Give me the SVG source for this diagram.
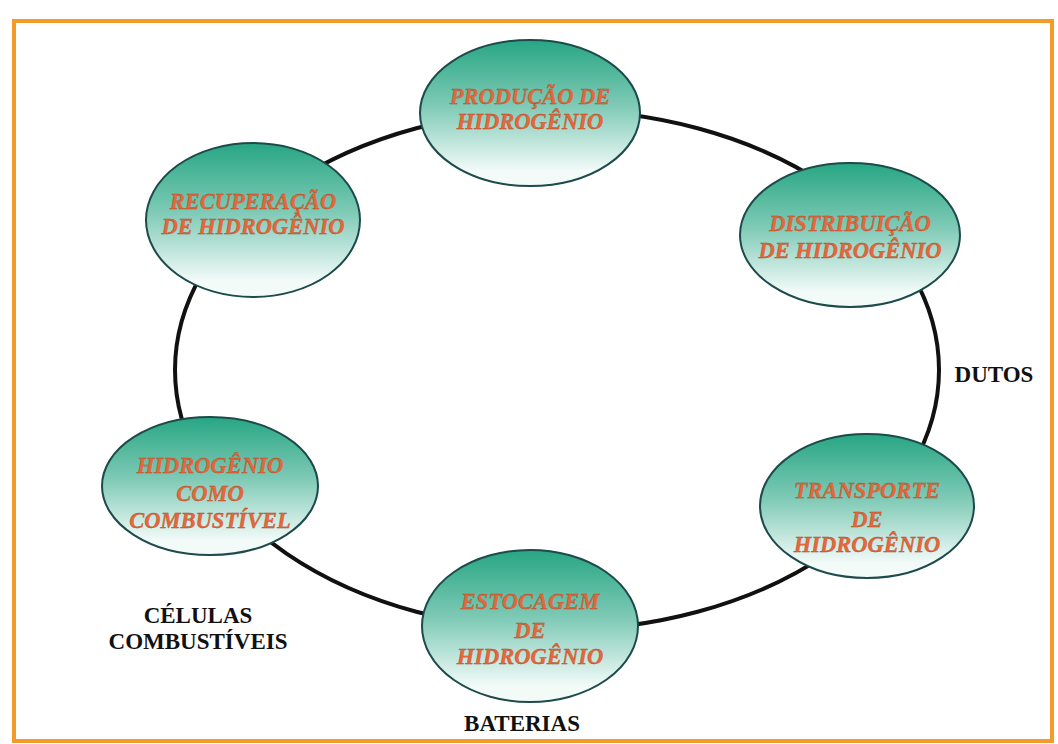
<svg xmlns="http://www.w3.org/2000/svg" width="1058" height="744" viewBox="0 0 1058 744">
<defs>
<linearGradient id="g" x1="0" y1="0" x2="0" y2="1">
<stop offset="0" stop-color="#27a683"/>
<stop offset="0.45" stop-color="#7fcab6"/>
<stop offset="0.9" stop-color="#f3fbf9"/>
</linearGradient>
<style>
.node{fill:url(#g);stroke:#1d4a4a;stroke-width:2}
.t{font-family:"Liberation Serif","Times New Roman",serif;font-weight:bold;font-style:italic;font-size:22.5px;fill:#e7673a;text-anchor:middle;stroke:#a0492a;stroke-width:0.3}
.b{font-family:"Liberation Serif","Times New Roman",serif;font-weight:bold;font-size:23px;fill:#111;text-anchor:middle}
</style>
</defs>
<rect width="1058" height="744" fill="#fff"/>
<rect x="14" y="21" width="1038" height="720" fill="none" stroke="#f39a2a" stroke-width="4"/>
<g id="connectors">
<ellipse cx="557" cy="370" rx="382" ry="260" fill="none" stroke="#111" stroke-width="4"/>
</g>
<g id="producao">
<ellipse class="node" cx="530" cy="113" rx="110" ry="73"/>
<text class="t" x="530" y="104">PRODUÇÃO DE</text>
<text class="t" x="530" y="129">HIDROGÊNIO</text>
</g>
<g id="distribuicao">
<ellipse class="node" cx="850" cy="235" rx="110" ry="72"/>
<text class="t" x="850" y="231">DISTRIBUIÇÃO</text>
<text class="t" x="850" y="258">DE HIDROGÊNIO</text>
</g>
<g id="transporte">
<ellipse class="node" cx="867" cy="506" rx="107" ry="72"/>
<text class="t" x="867" y="498">TRANSPORTE</text>
<text class="t" x="867" y="527">DE</text>
<text class="t" x="867" y="552">HIDROGÊNIO</text>
</g>
<g id="estocagem">
<ellipse class="node" cx="530" cy="626" rx="108" ry="76"/>
<text class="t" x="530" y="609">ESTOCAGEM</text>
<text class="t" x="530" y="638">DE</text>
<text class="t" x="530" y="664">HIDROGÊNIO</text>
</g>
<g id="combustivel">
<ellipse class="node" cx="210" cy="486" rx="108" ry="69"/>
<text class="t" x="210" y="473">HIDROGÊNIO</text>
<text class="t" x="210" y="501">COMO</text>
<text class="t" x="210" y="528">COMBUSTÍVEL</text>
</g>
<g id="recuperacao">
<ellipse class="node" cx="253" cy="220" rx="107" ry="77"/>
<text class="t" x="253" y="209">RECUPERAÇÃO</text>
<text class="t" x="253" y="234">DE HIDROGÊNIO</text>
</g>
<g id="labels">
<text class="b" x="994" y="382">DUTOS</text>
<text class="b" x="198" y="623">CÉLULAS</text>
<text class="b" x="198" y="649">COMBUSTÍVEIS</text>
<text class="b" x="522" y="731">BATERIAS</text>
</g>
</svg>
